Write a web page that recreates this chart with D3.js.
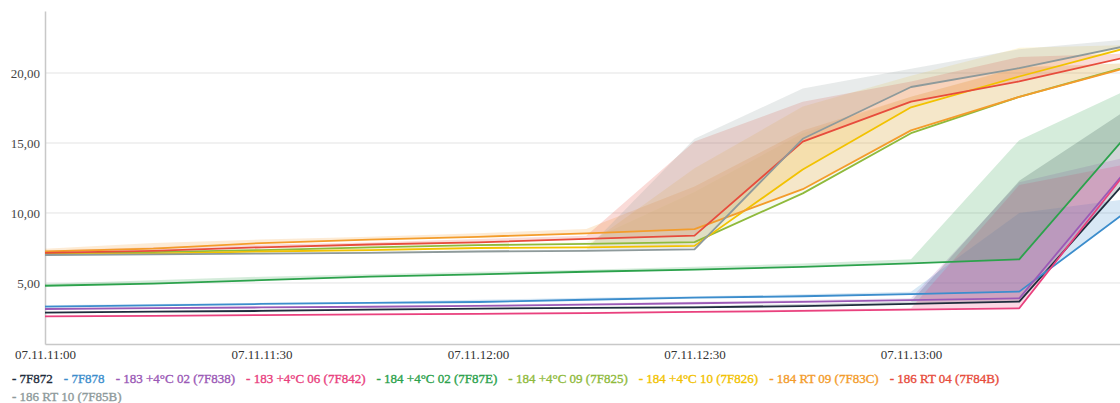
<!DOCTYPE html>
<html>
<head>
<meta charset="utf-8">
<script src="https://cdn.jsdelivr.net/npm/d3@7"></script>
<style>
  html, body { margin: 0; padding: 0; background: #fff; }
  svg { display: block; }
  svg text { font-family: "Liberation Serif", "Times New Roman", Times, serif; }
</style>
</head>
<body>
<svg id="chart" width="1120" height="403"></svg>
<script>
// Sample times (07.11, every 15 minutes)
const times = ["11:00","11:15","11:30","11:45","12:00","12:15","12:30","12:45","13:00","13:15","13:30"];

// Sensor names shown in the legend
const names = [
  "7F872", "7F878", "183 +4°C 02 (7F838)", "183 +4°C 06 (7F842)",
  "184 +4°C 02 (7F87E)", "184 +4°C 09 (7F825)", "184 +4°C 10 (7F826)",
  "184 RT 09 (7F83C)", "186 RT 04 (7F84B)", "186 RT 10 (7F85B)"
];
const colors = ["#1f2d3d", "#3c8dcc", "#9b59b6", "#e9417e", "#2ca24c",
                "#8fba3c", "#f2c200", "#f39c2b", "#e74c3c", "#8e9a9b"];

// Mean temperature per interval
const t7F872 = [2.88, 2.95, 3.00, 3.10, 3.17, 3.22, 3.26, 3.35, 3.50, 3.67, 12.40];
const t7F878 = [3.31, 3.40, 3.50, 3.58, 3.64, 3.80, 3.95, 4.05, 4.20, 4.38, 10.15];
const t7F838 = [3.14, 3.20, 3.25, 3.30, 3.36, 3.45, 3.55, 3.65, 3.78, 3.90, 13.15];
const t7F842 = [2.62, 2.65, 2.70, 2.75, 2.79, 2.85, 2.93, 3.00, 3.10, 3.19, 13.05];
const t7F87E = [4.80, 4.95, 5.20, 5.45, 5.62, 5.80, 5.95, 6.15, 6.40, 6.69, 15.60];
const t7F825 = [7.10, 7.20, 7.35, 7.55, 7.70, 7.80, 7.92, 11.40, 15.70, 18.30, 20.45];
const t7F826 = [7.05, 7.10, 7.25, 7.35, 7.50, 7.55, 7.65, 13.10, 17.55, 19.75, 21.80];
const t7F83C = [7.25, 7.45, 7.85, 8.10, 8.30, 8.55, 8.85, 11.70, 15.90, 18.30, 20.40];
const t7F84B = [7.15, 7.30, 7.55, 7.75, 7.90, 8.15, 8.38, 15.10, 17.95, 19.40, 21.15];
const t7F85B = [7.00, 7.05, 7.10, 7.15, 7.25, 7.30, 7.40, 15.30, 19.00, 20.35, 21.95];

// Maximum temperature per interval (upper edge of the shaded range)
const max7F872 = [2.95, 3.00, 3.10, 3.17, 3.22, 3.26, 3.35, 3.50, 3.67, 12.30, 17.40];
const max7F878 = [3.40, 3.50, 3.58, 3.64, 3.80, 3.95, 4.05, 4.20, 4.38, 10.00, 11.00];
const max7F838 = [3.20, 3.25, 3.30, 3.36, 3.45, 3.55, 3.65, 3.78, 3.90, 12.20, 14.00];
const max7F842 = [2.65, 2.70, 2.75, 2.79, 2.85, 2.93, 3.00, 3.10, 3.19, 12.00, 13.50];
const max7F87E = [4.95, 5.20, 5.45, 5.62, 5.80, 5.95, 6.15, 6.40, 6.69, 15.20, 18.80];
const max7F825 = [7.20, 7.35, 7.55, 7.70, 7.80, 7.92, 11.50, 15.70, 18.30, 20.45, 20.70];
const max7F826 = [7.10, 7.25, 7.35, 7.50, 7.55, 7.65, 13.20, 17.60, 19.80, 21.80, 22.00];
const max7F83C = [7.45, 7.85, 8.10, 8.30, 8.55, 8.85, 11.90, 15.90, 18.30, 20.40, 20.70];
const max7F84B = [7.30, 7.55, 7.75, 7.90, 8.15, 8.38, 15.10, 17.95, 19.40, 21.15, 21.40];
const max7F85B = [7.05, 7.10, 7.15, 7.25, 7.30, 7.40, 15.30, 18.90, 20.30, 21.70, 22.40];

const yTicks = [5, 10, 15, 20];
const xTicks = ["11:00", "11:30", "12:00", "12:30", "13:00"];

const means = [t7F872, t7F878, t7F838, t7F842, t7F87E, t7F825, t7F826, t7F83C, t7F84B, t7F85B];
const maxes = [max7F872, max7F878, max7F838, max7F842, max7F87E, max7F825, max7F826, max7F83C, max7F84B, max7F85B];

const toDate = s => { const [h, m] = s.split(":").map(Number); return new Date(2023, 10, 7, h, m); };
const dates = times.map(toDate);

const series = names.map((name, i) => ({
  name, color: colors[i],
  points: dates.map((d, j) => ({ d, v: means[i][j], hi: maxes[i][j] }))
}));

// Range fills: the greenish-yellow pair is kept fainter so the warm tones dominate
const bandOpacity = i => (i === 5 ? 0.08 : i === 6 ? 0.14 : 0.2);

const serif = "'Liberation Serif', 'Times New Roman', Times, serif";
const svg = d3.select("#chart");
const plotLeft = 45, plotTop = 11, plotBottom = 344;

const x = d3.scaleTime()
  .domain([dates[0], dates[dates.length - 1]])
  .range([plotLeft, 1127.5]);
const y = d3.scaleLinear()
  .domain([0.64, 24.43])
  .range([plotBottom, plotTop]);

// Horizontal grid lines
svg.append("g")
  .selectAll("line")
  .data(yTicks)
  .join("line")
  .attr("x1", plotLeft).attr("x2", 1120)
  .attr("y1", d => y(d)).attr("y2", d => y(d))
  .attr("stroke", "#e3e3e3").attr("stroke-width", 1);

// Axes
const yAxis = svg.append("g")
  .attr("transform", `translate(${plotLeft},0)`)
  .call(d3.axisLeft(y).tickValues(yTicks).tickSize(0).tickPadding(5)
    .tickFormat(d => d3.format(".2f")(d).replace(".", ",")));
yAxis.select(".domain").attr("stroke", "#c8c8c8").attr("stroke-width", 1.5);
yAxis.selectAll("text").attr("font-size", 13).attr("fill", "#444")
  .style("font-family", serif);

const xAxis = svg.append("g")
  .attr("transform", `translate(0,${plotBottom})`)
  .call(d3.axisBottom(x).tickValues(xTicks.map(toDate)).tickSize(0).tickPadding(6)
    .tickFormat(d3.timeFormat("%d.%m.%H:%M")));
xAxis.select(".domain").attr("stroke", "#c8c8c8").attr("stroke-width", 1.5);
xAxis.selectAll("text").attr("font-size", 13).attr("fill", "#333")
  .style("font-family", serif);

// Shaded ranges
const area = d3.area()
  .x(p => x(p.d))
  .y0(p => y(p.v))
  .y1(p => y(p.hi));
svg.append("g")
  .selectAll("path")
  .data(series)
  .join("path")
  .attr("d", s => area(s.points))
  .attr("fill", s => s.color)
  .attr("fill-opacity", (s, i) => bandOpacity(i))
  .attr("stroke", "none");

// Mean lines
const line = d3.line()
  .x(p => x(p.d))
  .y(p => y(p.v));
svg.append("g")
  .selectAll("path")
  .data(series)
  .join("path")
  .attr("d", s => line(s.points))
  .attr("fill", "none")
  .attr("stroke", s => s.color)
  .attr("stroke-width", 1.8)
  .attr("stroke-linejoin", "round");

// Legend
const legend = svg.append("g");
let lx = 12, ly = 383;
const gap = 11, maxRight = 1060;
series.forEach(s => {
  const t = legend.append("text")
    .attr("x", lx).attr("y", ly)
    .attr("font-size", 13)
    .attr("fill", s.color)
    .attr("stroke", s.color).attr("stroke-width", 0.35)
    .style("font-family", serif)
    .text("- " + s.name);
  const w = t.node().getComputedTextLength();
  if (lx + w > maxRight && lx > 12) {
    lx = 12; ly += 18;
    t.attr("x", lx).attr("y", ly);
  }
  lx += w + gap;
});
</script>
</body>
</html>
